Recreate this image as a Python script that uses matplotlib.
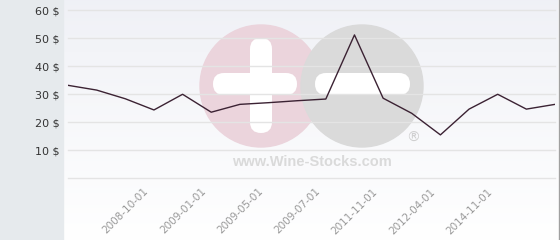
import matplotlib
matplotlib.use('Agg')
import matplotlib.pyplot as plt
import numpy as np
from matplotlib.patches import Circle, FancyBboxPatch, Rectangle
from matplotlib.transforms import ScaledTranslation

prices = [33.1, 31.4, 28.3, 24.3, 29.9, 23.5, 26.3, 26.9, 27.6, 28.2,
          51.1, 28.5, 23.1, 15.4, 24.6, 29.9, 24.6, 26.3]
date_labels = ['', '', '2008-10-01', '', '2009-01-01', '', '2009-05-01', '',
               '2009-07-01', '', '2011-11-01', '', '2012-04-01', '',
               '2014-11-01', '', '', '']
y_ticks = [10, 20, 30, 40, 50, 60]
y_labels = [f'{v} $' for v in y_ticks]

W, H = 560, 240
fig = plt.figure(figsize=(5.6, 2.4), dpi=100)

# background layer (pixel coordinates)
bg = fig.add_axes([0, 0, 1, 1], zorder=0)
grad = np.linspace(0, 1, 256)[:, None]
top = np.array([0.94, 0.945, 0.965])
bot = np.array([1.0, 1.0, 1.0])
img = top[None, None, :] * (1 - grad[:, :, None]) + bot[None, None, :] * grad[:, :, None]
img = np.repeat(img, 2, axis=1)
bg.imshow(img, extent=[63, 558, 240, 0], aspect='auto', zorder=0, interpolation='bilinear')
bg.add_patch(Rectangle((0, 0), 63, 240, color='#e6eaed', zorder=1))
bg.plot([558.5, 558.5], [0, 240], color='#a0a0a0', lw=1, zorder=2)

# watermark
bg.add_patch(Circle((261, 86), 61, color='#ebd4dc', zorder=2))
bg.add_patch(Circle((362, 86), 61, color='#dadada', zorder=3))
for (x0, y0, w, h) in [(213, 73, 84, 22), (250, 38, 22, 95)]:
    bg.add_patch(FancyBboxPatch((x0, y0), w, h, boxstyle='round,pad=0,rounding_size=11',
                                fc='white', ec='none', zorder=2.5))
bg.add_patch(FancyBboxPatch((315, 73), 95, 22, boxstyle='round,pad=0,rounding_size=11',
                            fc='white', ec='none', zorder=3.5))
bg.text(312, 162, 'www.Wine-Stocks.com', ha='center', va='center', fontsize=10.5,
        fontweight='bold', color='#dadada', family='Liberation Sans', zorder=4)
bg.text(413, 138, '®', ha='center', va='center', fontsize=10, color='#cfcfcf',
        family='DejaVu Sans', zorder=4)
bg.set_xlim(0, W)
bg.set_ylim(H, 0)
bg.axis('off')

# main axes
ax = fig.add_axes([68 / W, 62 / H, 487 / W, 168 / H], zorder=1)
ax.patch.set_alpha(0)
x = np.arange(len(prices))
for v in [0] + y_ticks:
    ax.axhline(v, color='#e4e4e4', lw=1, zorder=1, clip_on=False)
ax.plot(x, prices, color='#3b2233', lw=1.0, zorder=3)
ax.set_xlim(0, len(prices) - 1)
ax.set_ylim(0, 60)
for s in ax.spines.values():
    s.set_visible(False)
ax.set_yticks(y_ticks, labels=y_labels)
ax.tick_params(axis='y', length=0, pad=5.8, labelsize=8, labelcolor='#333333')
ax.set_xticks(x, labels=date_labels)
ax.tick_params(axis='x', length=0, pad=6, labelsize=7.5, labelcolor='#999999')
off = ScaledTranslation(18 / 100, 0, fig.dpi_scale_trans)
for lbl in ax.get_xticklabels():
    lbl.set_rotation(45)
    lbl.set_ha('right')
    lbl.set_rotation_mode('anchor')
    lbl.set_transform(lbl.get_transform() + off)

fig.savefig('out.png', dpi=100)
